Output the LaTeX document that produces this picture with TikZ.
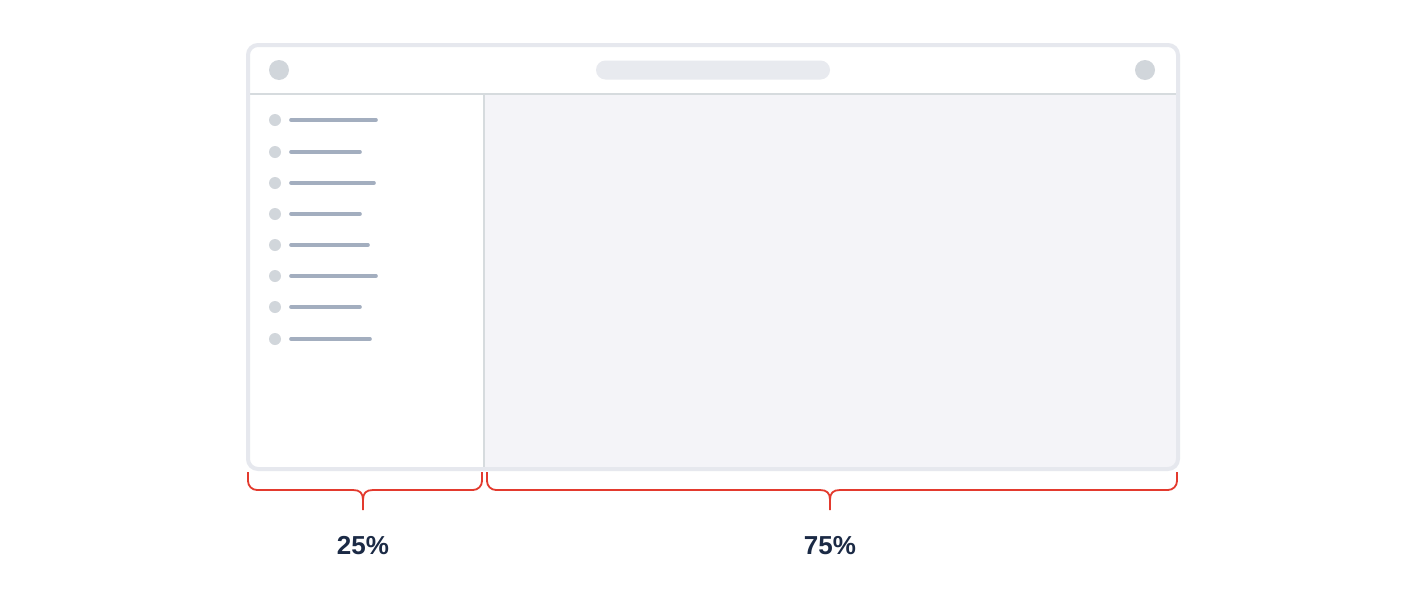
\documentclass[tikz,border=0pt]{standalone}
\usepackage{fontspec}
\setmainfont{Liberation Sans}
\begin{document}
\begin{tikzpicture}[x=1pt,y=-1pt,
  frame/.style={draw=frameC,line width=4pt,rounded corners=10pt},
  dotC/.style={fill=dotG,draw=none},
  itemline/.style={draw=lineG,line width=3.6pt,line cap=round},
  brace/.style={draw=braceR,line width=1.8pt,line cap=butt,line join=round},
  pct/.style={font=\fontsize{26}{30}\selectfont\bfseries,text=navy,inner sep=0pt}]
\definecolor{frameC}{HTML}{E6E8EE}
\definecolor{dotG}{HTML}{D1D6DB}
\definecolor{lineG}{HTML}{A3AEBF}
\definecolor{mainF}{HTML}{F4F4F8}
\definecolor{sepC}{HTML}{D6DBDE}
\definecolor{pillC}{HTML}{E8EAEF}
\definecolor{braceR}{HTML}{E33A2E}
\definecolor{navy}{HTML}{1B2A45}
\useasboundingbox (0,0) rectangle (1428,600);
\fill[white] (0,0) rectangle (1428,600);
% window contents clipped
\begin{scope}
\clip[rounded corners=9pt] (248,45) rectangle (1178,469);
\fill[white] (248,45) rectangle (1178,469);
\fill[mainF] (484,94) rectangle (1178,469);
\draw[sepC,line width=2pt] (248,94) -- (1178,94);
\draw[sepC,line width=2pt] (484,94) -- (484,469);
\end{scope}
\draw[frame] (248,45) rectangle (1178,469);
% title bar
\node[circle,dotC,minimum size=20pt,inner sep=0pt] (lc) at (279,70) {};
\node[circle,dotC,minimum size=20pt,inner sep=0pt] (rc) at (1145,70) {};
\fill[pillC,rounded corners=9.5pt] (596,60.5) rectangle (830,79.5);
% sidebar items
\foreach \y/\e [count=\i] in {120/378,152/362,183/376,214/362,245/370,276/378,307/362,339/372}{
  \node[circle,dotC,minimum size=12pt,inner sep=0pt] (d\i) at (275,\y) {};
  \draw[itemline] (291,\y) -- (\e-2,\y);
}
% braces
\foreach \a/\c/\b/\n in {248/363/482/l,487/830/1177/r}{
  \draw[brace] (\a,472) -- (\a,481) .. controls (\a,486) and (\a+4,490) .. (\a+9,490)
     -- (\c-10,490) .. controls (\c-3,490) and (\c,493) .. (\c,500) -- (\c,510);
  \draw[brace] (\b,472) -- (\b,481) .. controls (\b,486) and (\b-4,490) .. (\b-9,490)
     -- (\c+10,490) .. controls (\c+3,490) and (\c,493) .. (\c,500);
  \coordinate (tip\n) at (\c,510);
}
\node[pct] (p25) at ([yshift=-36pt]tipl) {25\%};
\node[pct] (p75) at ([yshift=-36pt]tipr) {75\%};
\end{tikzpicture}
\end{document}
